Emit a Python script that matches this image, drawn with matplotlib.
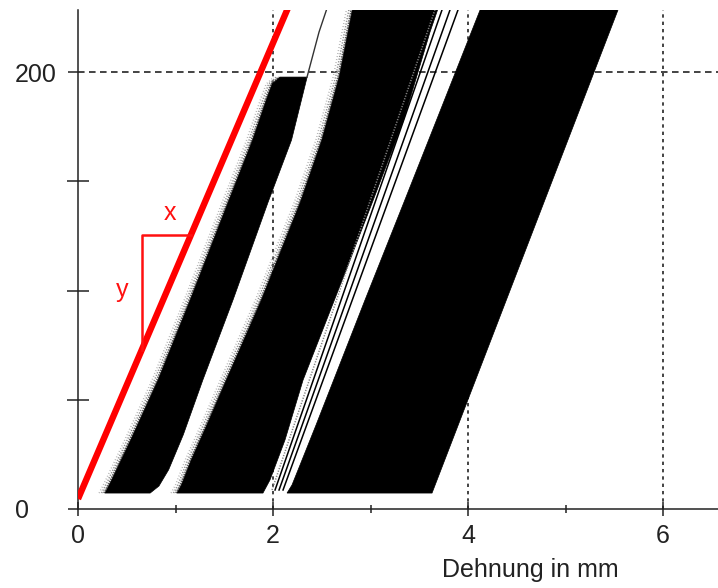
import numpy as np
import matplotlib
matplotlib.use("Agg")
import matplotlib.pyplot as plt

plt.rcParams['font.family'] = ['Liberation Sans', 'DejaVu Sans']

# black bands of dense hysteresis loops (Dehnung in mm, Kraft)
a_lx = [0.277, 0.33, 0.54, 0.82, 1.15, 1.54, 1.79, 1.93, 1.99, 2.07]
a_ly = [7.3, 11.9, 31.6, 59.0, 95.7, 140.5, 168.9, 187.2, 194.5, 197.7]
a_rx = [0.74, 0.83, 0.93, 1.08, 1.28, 1.59, 1.95, 2.19, 2.35]
a_ry = [7.3, 10.5, 18.0, 34.0, 59.0, 95.7, 140.5, 168.9, 197.7]

b_lx = [1.015, 1.06, 1.16, 1.32, 1.52, 1.88, 2.28, 2.50, 2.68, 2.82]
b_ly = [7.3, 11.0, 22.4, 38.4, 59.0, 95.7, 140.5, 168.9, 198.2, 230.0]
b_rx = [1.897, 1.969, 2.123, 2.308, 2.63, 3.02, 3.34, 3.610, 3.70]
b_ry = [7.3, 13.3, 31.6, 59.0, 95.7, 140.5, 178.0, 218.3, 230.0]

c_lx = [2.144, 2.195, 2.277, 2.441, 2.622, 2.944, 3.344, 3.718, 4.138]
c_ly = [7.3, 11.0, 20.1, 38.4, 59.0, 95.7, 140.5, 182.6, 230.0]
c_rx = [3.631, 5.552]
c_ry = [7.3, 230.0]

# single loop lines in the gap between band 2 and 3
gap_x0 = [2.021, 2.062, 2.103]
gap_x1 = [3.733, 3.815, 3.897]
gap_y = [8.7, 228.4]
gap_grey_x = [1.99, 3.66]

# line leaving the first band above the plateau
over_x = [2.349, 2.472, 2.56]
over_y = [197.7, 218.3, 230.0]

# red slope line and triangle
red_x = [0.0, 2.16]
red_y = [4.6, 230.0]
tri_x = [1.16, 0.656, 0.656]
tri_y = [125.4, 125.4, 73.0]

fig = plt.figure(figsize=(7.18, 5.88), dpi=100)
ax = fig.add_axes([78 / 718, 79 / 588, 640 / 718, 499 / 588])
ax.set_xlim(0, 6.564)
ax.set_ylim(0, 228.4)

txt = '#222222'

# grid
for gx in [2, 4, 6]:
    ax.axvline(gx, color='#111111', lw=1.1, dashes=(2.2, 2.6), zorder=1)
ax.axhline(200, color='#111111', lw=1.1, dashes=(4.3, 2.9), zorder=1)

# mottled grey fringes on the left side of the bands
for off, col, dsh in [(0.012, '0.35', (1.0, 0.6)), (0.035, '0.55', (0.8, 1.0)),
                      (0.06, '0.7', (0.6, 1.4))]:
    ax.plot(np.array(a_lx) - off, a_ly, color=col, lw=1.1, dashes=dsh, zorder=2)
    ax.plot(np.array(b_lx) - off, b_ly, color=col, lw=1.1, dashes=dsh, zorder=2)

for lx, ly, rx, ry in [(a_lx, a_ly, a_rx, a_ry), (b_lx, b_ly, b_rx, b_ry), (c_lx, c_ly, c_rx, c_ry)]:
    px = np.concatenate([lx, rx[::-1]])
    py = np.concatenate([ly, ry[::-1]])
    ax.fill(px, py, color='black', lw=0.5, zorder=3)

for x0, x1 in zip(gap_x0, gap_x1):
    ax.plot([x0, x1], gap_y, color='black', lw=1.1, zorder=3)
ax.plot(gap_grey_x, gap_y, color='0.5', lw=1.1, dashes=(0.8, 1.0), zorder=3)
ax.plot(over_x, over_y, color='#333333', lw=1.0, zorder=3)

ax.plot(red_x, red_y, color='#ff0000', lw=4.6, solid_capstyle='butt', zorder=5)
ax.plot(tri_x, tri_y, color='#ff1010', lw=1.8, zorder=5)
ax.text(0.944, 135.5, 'x', color='#ff1010', fontsize=18, ha='center', va='center', zorder=6)
ax.text(0.451, 100.2, 'y', color='#ff1010', fontsize=18, ha='center', va='center', zorder=6)

# axes styling
for s in ['top', 'right']:
    ax.spines[s].set_visible(False)
for s in ['left', 'bottom']:
    ax.spines[s].set_color('#222222')
    ax.spines[s].set_linewidth(1.1)
    ax.spines[s].set_zorder(4)

ax.set_xticks([0, 2, 4, 6])
ax.set_xticks([1, 3, 5], minor=True)
ax.set_yticks([0, 200])
ax.set_yticks([50, 100, 150], minor=True)
ax.set_xticklabels(['0', '2', '4', '6'])
ax.set_yticklabels(['0', '200'])

ax.tick_params(axis='x', which='major', direction='inout', length=10, width=1.1,
               color='#222222', labelsize=18, labelcolor=txt, pad=6)
ax.tick_params(axis='x', which='minor', direction='inout', length=5.8, width=1.1, color='#222222')
ax.tick_params(axis='y', which='major', direction='out', length=7.2, width=1.1,
               color='#222222', labelsize=18, labelcolor=txt, pad=38)
ax.tick_params(axis='y', which='minor', direction='inout', length=16, width=1.1, color='#222222')
for lab in ax.get_yticklabels():
    lab.set_horizontalalignment('left')

ax.set_xlabel('Dehnung in mm', fontsize=18, color=txt)
ax.xaxis.set_label_coords(0.706, -0.098)

fig.savefig('out.png', dpi=100)
